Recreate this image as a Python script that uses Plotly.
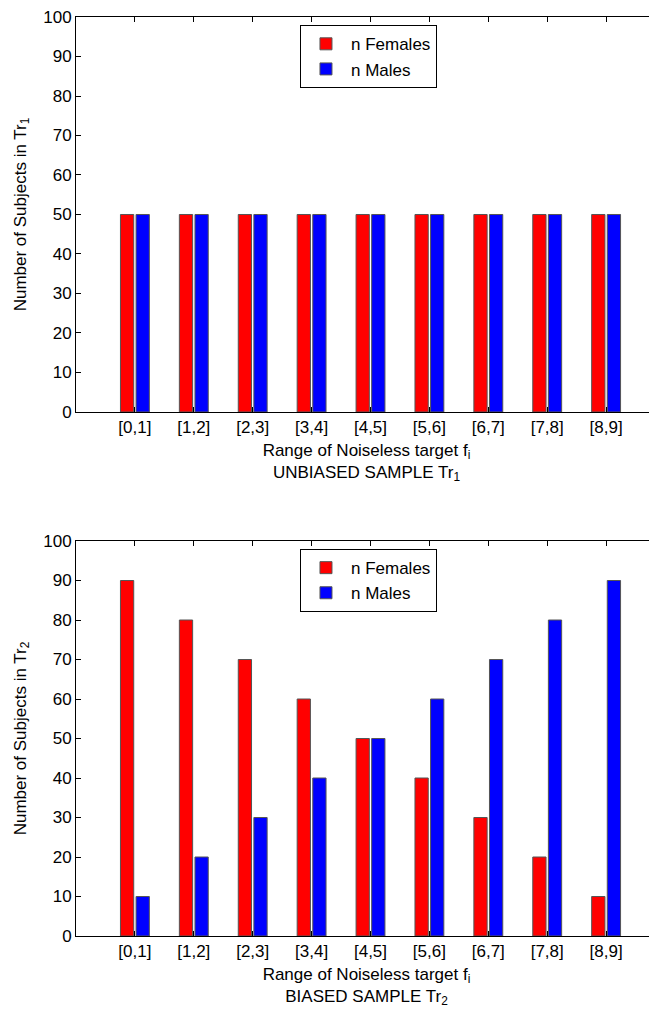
import plotly.graph_objects as go

categories = ["[0,1]", "[1,2]", "[2,3]", "[3,4]", "[4,5]", "[5,6]", "[6,7]", "[7,8]", "[8,9]"]
females_unbiased = [50, 50, 50, 50, 50, 50, 50, 50, 50]
males_unbiased = [50, 50, 50, 50, 50, 50, 50, 50, 50]
females_biased = [90, 80, 70, 60, 50, 40, 30, 20, 10]
males_biased = [10, 20, 30, 40, 50, 60, 70, 80, 90]
y_ticks = [0, 10, 20, 30, 40, 50, 60, 70, 80, 90, 100]

positions = list(range(1, len(categories) + 1))
FONT = "Liberation Sans, Arial, Helvetica, sans-serif"
FS = 17
RED = "#ff0000"
BLUE = "#0000ff"
EDGE = "#555555"

fig = go.Figure()

def add_pair(fem, mal, xa, ya, leg):
    fig.add_trace(go.Bar(x=positions, y=fem, name="n Females", xaxis=xa, yaxis=ya,
                         marker=dict(color=RED, line=dict(color=EDGE, width=1)),
                         legend=leg))
    fig.add_trace(go.Bar(x=positions, y=mal, name="n Males", xaxis=xa, yaxis=ya,
                         marker=dict(color=BLUE, line=dict(color=EDGE, width=1)),
                         legend=leg))

add_pair(females_unbiased, males_unbiased, "x", "y", "legend")
add_pair(females_biased, males_biased, "x2", "y2", "legend2")

xcommon = dict(range=[0, 9.864], tickvals=positions, ticktext=categories,
               ticks="inside", ticklen=5, tickcolor="black", showline=True,
               linecolor="black", linewidth=1, mirror="ticks", showgrid=False,
               zeroline=False, tickfont=dict(size=FS, color="black", family=FONT),
               automargin=False, ticklabeloverflow="allow")
ycommon = dict(range=[0, 100], tickvals=y_ticks, ticks="inside", ticklen=5,
               tickcolor="black", showline=True, linecolor="black", linewidth=1,
               showgrid=False, zeroline=False,
               tickfont=dict(size=FS, color="black", family=FONT), automargin=False,
               ticklabeloverflow="allow")

legcommon = dict(bordercolor="black", borderwidth=1, bgcolor="white",
                 font=dict(size=FS, color="black", family=FONT),
                 xanchor="left", yanchor="top", x=0.3855, tracegroupgap=0,
                 itemwidth=40)

fig.update_layout(
    width=649, height=1005,
    margin=dict(l=68, r=0, t=9, b=77),
    paper_bgcolor="white", plot_bgcolor="white",
    font=dict(family=FONT, size=FS, color="black"),
    barmode="group", bargap=0.47, bargroupgap=0.15,
    xaxis=dict(domain=[0, 1], anchor="y",
               title=dict(text="Range of Noiseless target f<sub>i</sub><br>UNBIASED SAMPLE Tr<sub>1</sub>",
                          font=dict(size=FS, family=FONT), standoff=7),
               **xcommon),
    yaxis=dict(domain=[0.5702, 1], anchor="x",
               title=dict(text="Number of Subjects in Tr<sub>1</sub>",
                          font=dict(size=FS, family=FONT), standoff=12),
               **ycommon),
    xaxis2=dict(domain=[0, 1], anchor="y2",
                title=dict(text="Range of Noiseless target f<sub>i</sub><br>BIASED SAMPLE Tr<sub>2</sub>",
                           font=dict(size=FS, family=FONT), standoff=7),
                **xcommon),
    yaxis2=dict(domain=[0, 0.4298], anchor="x2",
                title=dict(text="Number of Subjects in Tr<sub>2</sub>",
                           font=dict(size=FS, family=FONT), standoff=12),
                **ycommon),
    legend=dict(y=0.991, **legcommon),
    legend2=dict(y=0.421, **legcommon),
)

fig.write_html("out.html")
